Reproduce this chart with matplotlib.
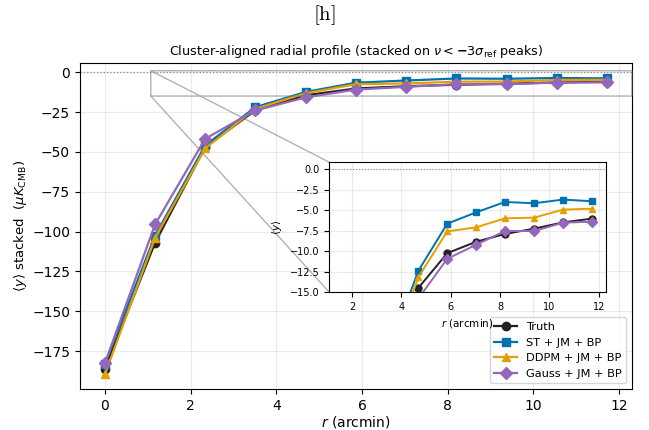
import numpy as np
import matplotlib
matplotlib.use("Agg")
import matplotlib.pyplot as plt

# radial bins (arcmin)
r = [0.0, 1.17, 2.34, 3.51, 4.69, 5.86, 7.03, 8.2, 9.38, 10.55, 11.72]

truth = [-186.0, -107.0, -47.0, -24.0, -14.5, -10.25, -8.85, -7.9, -7.25, -6.48, -6.02]
st_jm = [-183.0, -102.5, -46.0, -22.0, -12.4, -6.64, -5.25, -3.98, -4.14, -3.69, -3.89]
ddpm_jm = [-189.5, -104.0, -47.8, -23.0, -13.2, -7.58, -7.09, -5.98, -5.9, -4.92, -4.8]
gauss_jm = [-182.5, -95.5, -41.8, -24.0, -15.8, -10.94, -9.22, -7.54, -7.54, -6.52, -6.39]

series = [
    ("Truth", truth, "#222222", "o"),
    ("ST + JM + BP", st_jm, "#0072B2", "s"),
    ("DDPM + JM + BP", ddpm_jm, "#E69F00", "^"),
    ("Gauss + JM + BP", gauss_jm, "#9467BD", "D"),
]

fig = plt.figure(figsize=(6.49, 4.30), dpi=100)
ax = fig.add_axes([0.123, 0.095, 0.851, 0.758])

for label, vals, col, mk in series:
    ax.plot(r, vals, color=col, marker=mk, ms=6, lw=1.6, label=label)
ax.axhline(0, color="gray", ls=":", lw=0.9, zorder=0)
ax.grid(True, alpha=0.25)
ax.set_xlabel(r"$r$ (arcmin)", fontsize=10, labelpad=1)
ax.set_ylabel(r"$\langle y\rangle$ stacked  ($\mu K_{\rm CMB}$)", fontsize=9.5, labelpad=2)
ax.set_title(r"Cluster-aligned radial profile (stacked on $\nu < \mathbf{-}3\sigma_{\rm ref}$ peaks)",
             fontsize=9.2)

# zoom inset
axins = fig.add_axes([0.507, 0.321, 0.427, 0.302])
for label, vals, col, mk in series:
    axins.plot(r, vals, color=col, marker=mk, ms=5, lw=1.4)
axins.axhline(0, color="gray", ls=":", lw=0.8, zorder=0)
axins.set_xlim(1.07, 12.3)
axins.set_ylim(-15, 0.9)
axins.set_yticks([0, -2.5, -5, -7.5, -10, -12.5, -15])
axins.grid(True, alpha=0.25)
axins.tick_params(labelsize=7)
axins.set_xlabel(r"$r$ (arcmin)", fontsize=7.5)
axins.set_ylabel(r"$\langle y\rangle$", fontsize=7.5)
ax.indicate_inset_zoom(axins, edgecolor="0.5", alpha=0.6, lw=1.0)

leg = ax.legend(loc="lower right", fontsize=8.2)
leg.set_zorder(20)

fig.text(0.5, 0.965, r"$\mathrm{[h]}$", ha="center", va="center", fontsize=15, math_fontfamily="cm")

fig.savefig("out.png", dpi=100)
